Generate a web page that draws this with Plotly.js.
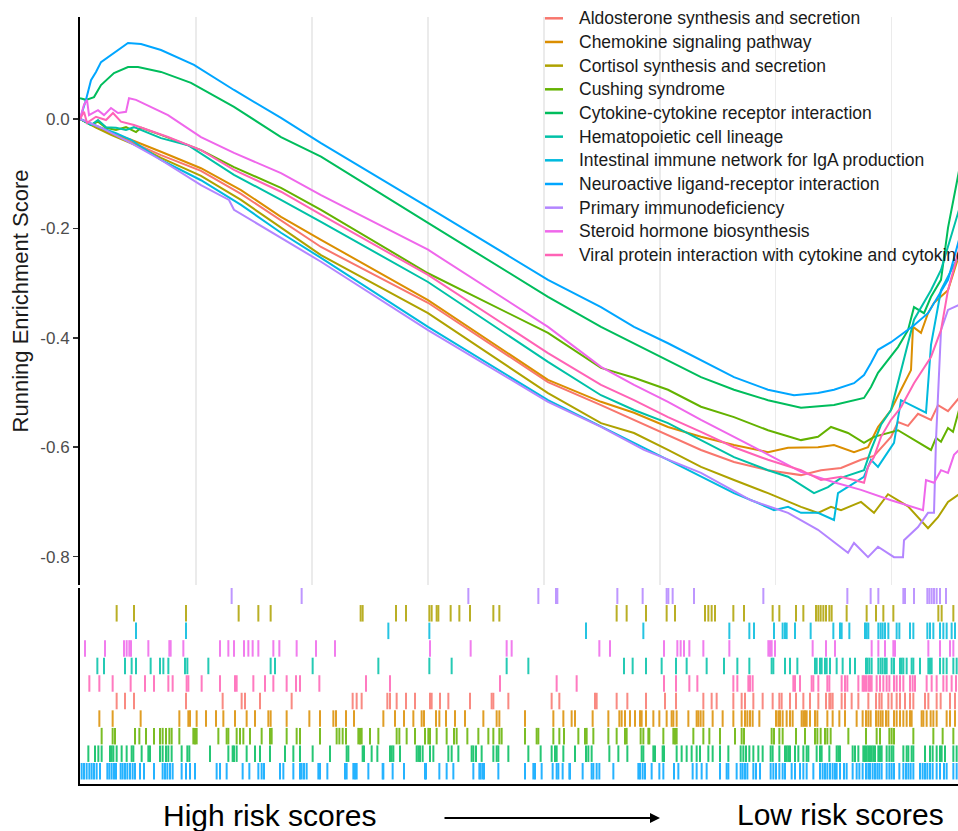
<!DOCTYPE html>
<html><head><meta charset="utf-8">
<script src="https://cdn.plot.ly/plotly-3.0.1.min.js"></script>
<style>html,body{margin:0;padding:0;background:#fff;}#chart{width:958px;height:831px;}</style>
</head><body><div id="chart"></div>
<script>
// ---- data (gene rank in ordered list, running enrichment score) ----
const setNames = [
  "Aldosterone synthesis and secretion",
  "Chemokine signaling pathway",
  "Cortisol synthesis and secretion",
  "Cushing syndrome",
  "Cytokine-cytokine receptor interaction",
  "Hematopoietic cell lineage",
  "Intestinal immune network for IgA production",
  "Neuroactive ligand-receptor interaction",
  "Primary immunodeficiency",
  "Steroid hormone biosynthesis",
  "Viral protein interaction with cytokine and cytokine-cytokine receptor interaction"
];

const aldoRank = [0,320,620,1020,1620,2420,3220,4020,4820,6960,9360,10420,11080,11760,12420,13080,13760,14420,14820,15220,15620,15880,16220,16360,16560,16760,17020,17160,17360,17580];
const aldoES = [0,-0.015,-0.027,-0.042,-0.066,-0.095,-0.137,-0.185,-0.234,-0.336,-0.481,-0.523,-0.550,-0.578,-0.605,-0.627,-0.642,-0.651,-0.642,-0.638,-0.623,-0.616,-0.581,-0.554,-0.561,-0.539,-0.550,-0.523,-0.534,-0.510];

const chemoRank = [0,320,620,1020,1620,2420,3220,4020,4820,6960,9360,10420,11080,11760,12420,13080,13760,14160,14760,15080,15480,15760,15960,16220,16420,16620,16660,16820,16960,17080,17360,17580];
const chemoES = [0,-0.015,-0.026,-0.038,-0.060,-0.090,-0.130,-0.179,-0.221,-0.331,-0.477,-0.517,-0.537,-0.563,-0.581,-0.596,-0.609,-0.601,-0.600,-0.596,-0.609,-0.600,-0.563,-0.532,-0.495,-0.459,-0.380,-0.391,-0.355,-0.336,-0.313,-0.249];

const cortisolRank = [0,320,620,1120,1620,2420,3220,4020,4820,6960,9360,10420,11080,11760,12420,13080,13760,14420,14760,15020,15220,15620,15880,16160,16560,16960,17160,17360,17580];
const cortisolES = [0,-0.016,-0.029,-0.048,-0.071,-0.104,-0.148,-0.199,-0.249,-0.355,-0.501,-0.556,-0.574,-0.605,-0.636,-0.660,-0.684,-0.709,-0.720,-0.709,-0.715,-0.700,-0.720,-0.686,-0.708,-0.748,-0.728,-0.700,-0.686];

const cushingRank = [0,220,360,520,720,920,1120,1220,1620,2420,3080,4020,4820,6960,9360,10420,11080,11760,12420,13080,13760,14420,14760,15020,15360,15680,15880,16360,17020,17120,17220,17360,17460,17580];
const cushingES = [0,-0.011,-0.005,-0.016,-0.020,-0.015,-0.024,-0.016,-0.029,-0.057,-0.088,-0.126,-0.166,-0.282,-0.391,-0.455,-0.473,-0.495,-0.526,-0.545,-0.569,-0.587,-0.581,-0.563,-0.574,-0.592,-0.581,-0.569,-0.605,-0.583,-0.590,-0.565,-0.572,-0.532];

const cytokineRank = [0,120,280,420,680,960,1160,1620,2220,3080,4020,4820,6960,9360,10420,11080,11760,12420,13080,13760,14420,15080,15680,15820,15960,16160,16360,16560,16680,16880,17020,17220,17360,17580];
const cytokineES = [0.038,0.035,0.040,0.062,0.084,0.095,0.095,0.086,0.066,0.022,-0.033,-0.069,-0.190,-0.325,-0.380,-0.410,-0.441,-0.472,-0.495,-0.514,-0.528,-0.523,-0.510,-0.490,-0.464,-0.441,-0.417,-0.386,-0.344,-0.355,-0.325,-0.294,-0.199,-0.095];

const hematoRank = [0,220,360,520,720,920,1080,1620,2160,3080,4020,4820,6960,9360,10420,11080,11760,12420,13080,13760,14160,14680,14960,15220,15680,15820,16020,16220,16420,16680,17020,17220,17580];
const hematoES = [0,-0.011,-0.002,-0.015,-0.016,-0.020,-0.015,-0.035,-0.048,-0.102,-0.148,-0.188,-0.298,-0.444,-0.505,-0.532,-0.556,-0.587,-0.618,-0.642,-0.654,-0.684,-0.673,-0.656,-0.642,-0.605,-0.559,-0.532,-0.459,-0.367,-0.313,-0.276,-0.166];

const intestRank = [0,220,420,720,1020,1620,2420,3220,4020,4820,6960,9360,10420,11080,11760,12420,13080,13560,13880,14160,14420,14760,15080,15160,15480,15680,15820,15960,16280,16420,16920,17020,17220,17580];
const intestES = [0,-0.009,-0.016,-0.026,-0.038,-0.075,-0.112,-0.157,-0.208,-0.254,-0.380,-0.514,-0.563,-0.592,-0.623,-0.654,-0.684,-0.702,-0.715,-0.709,-0.720,-0.720,-0.733,-0.684,-0.665,-0.654,-0.623,-0.636,-0.592,-0.514,-0.537,-0.413,-0.313,-0.249];

const neuroRank = [0,60,120,220,320,420,620,760,960,1220,1620,2280,3080,4020,4820,6960,9360,10420,11080,11760,12420,13080,13760,14280,14760,15080,15480,15680,15820,15960,16220,16420,16680,16960,17160,17360,17580];
const neuroES = [0,0.016,0.035,0.071,0.086,0.104,0.117,0.126,0.139,0.137,0.126,0.099,0.053,0.002,-0.044,-0.161,-0.294,-0.344,-0.380,-0.410,-0.441,-0.472,-0.495,-0.505,-0.501,-0.495,-0.483,-0.468,-0.446,-0.422,-0.408,-0.395,-0.377,-0.355,-0.325,-0.294,-0.221];

const primaryRank = [0,420,1020,1620,2420,2980,3080,4020,4820,6960,9360,10420,11280,12420,13420,14160,14760,15360,15480,15760,15960,16280,16460,16480,16760,16960,17080,17120,17220,17360,17580];
const primaryES = [0,-0.016,-0.044,-0.075,-0.121,-0.148,-0.166,-0.218,-0.261,-0.386,-0.517,-0.563,-0.605,-0.647,-0.697,-0.720,-0.751,-0.793,-0.775,-0.801,-0.782,-0.801,-0.801,-0.770,-0.746,-0.720,-0.720,-0.587,-0.386,-0.349,-0.340];

const steroidRank = [0,80,140,180,360,480,620,760,920,980,1120,1760,2420,3080,4020,4820,6960,9360,10420,11080,11760,12420,13080,13760,14420,15080,15620,16220,16860,16920,17080,17220,17360,17480,17580];
const steroidES = [0,0.026,0.035,0.007,0.016,0.007,0.020,0.011,0.013,0.038,0.035,0.007,-0.033,-0.062,-0.099,-0.139,-0.239,-0.380,-0.453,-0.486,-0.517,-0.550,-0.581,-0.614,-0.645,-0.664,-0.678,-0.697,-0.715,-0.660,-0.665,-0.642,-0.647,-0.614,-0.605];

const viralRank = [0,80,140,320,520,660,820,1080,1760,2420,3080,4020,4820,6960,9360,10420,11080,11760,12420,13080,13760,14420,14820,15220,15480,15680,15760,15880,16020,16220,16420,16680,17020,17220,17360,17580];
const viralES = [0,0.013,-0.007,0.004,-0.002,0.011,-0.005,-0.011,-0.033,-0.057,-0.093,-0.133,-0.175,-0.285,-0.428,-0.486,-0.514,-0.545,-0.572,-0.600,-0.623,-0.642,-0.660,-0.654,-0.660,-0.665,-0.636,-0.618,-0.581,-0.550,-0.527,-0.483,-0.435,-0.386,-0.313,-0.239];

// ---- gene-set member positions in the ranked list (rug) ----
const aldoHits = [733,900,1080,2120,2853,3233,3300,3600,4233,5453,5533,5633,6147,6200,6333,6520,6700,7000,7033,7200,7367,7800,8233,8267,8567,9433,9587,10300,10333,10733,10947,11320,11700,11920,12467,12633,12733,13067,13233,13300,13467,13653,13853,13987,14033,14200,14320,14467,14600,14767,14920,14987,15013,15053,15233,15300,15433,15567,15767,15920,15987,16033,16167,16233,16333,16400,16500,16600,16667,16900,16967,17133,17213,17400,17500];
const chemoHits = [387,653,1213,1987,2167,2200,2333,2520,2720,2867,3100,3333,3500,3767,3813,4133,4587,4800,5067,5120,5320,5480,6067,6300,6480,6667,6833,6880,7120,7187,7320,7500,7700,8067,8333,8387,8900,9467,9667,9833,9900,10253,10567,10787,10833,10900,11000,11100,11200,11233,11320,11467,11587,11733,11833,11867,11933,12167,12333,12367,12413,12467,12653,12853,13067,13233,13300,13347,13400,13453,13587,13920,13967,14000,14053,14133,14200,14253,14433,14467,14500,14533,14600,14700,14747,14947,15053,15187,15300,15533,15653,15720,15767,15813,15920,15967,16013,16053,16120,16167,16280,16333,16400,16467,16533,16600,16633,16833,16867,16933,17013,17067,17133,17333,17400,17500];
const cortisolHits = [733,1080,2120,3173,3567,3813,5613,5653,6320,6520,6987,7033,7133,7167,7413,7587,7800,8267,8387,10733,10933,11320,11733,11900,12500,12567,12633,12700,13067,13280,13853,13987,14320,14467,14720,14767,14813,14867,14920,14987,15033,15333,15733,15920,16067,16267,17167,17233,17467];
const cushingHits = [433,653,700,1100,1187,1320,1480,1600,1653,1720,1787,1833,1987,2267,2300,2333,2767,2933,2967,3133,3200,3267,3400,3633,3800,3833,4133,4333,4400,4800,5133,5187,5253,5320,5567,5600,5633,5800,5967,6333,6387,6533,6700,6900,6967,7000,7133,7333,7480,7533,7747,7967,8167,8267,8387,8433,8900,9133,9167,9467,9587,9680,9967,10100,10133,10267,10567,10733,10900,10933,11213,11267,11367,11387,11667,11867,11900,11933,12267,12467,12587,12800,13100,13233,13280,13833,13880,13987,14053,14320,14500,14700,14747,14813,14900,14947,15013,15367,15720,15933,16000,16187,16233,16280,16667,17067,17253,17467];
const cytokineHits = [167,300,367,433,600,633,667,733,833,933,1033,1067,1233,1367,1400,1600,1653,1720,1767,1833,2033,2147,2187,2600,2967,3053,3080,3133,3333,3500,3600,3800,4100,4267,4400,4653,5000,5333,5367,5653,5680,5833,5947,6200,6233,6267,6400,6733,6767,6800,6853,7000,7067,7367,7433,7567,7833,7867,7920,8033,8267,8333,8367,8567,8967,9213,9433,9500,9533,9667,9900,10120,10167,10233,10587,10767,10947,11233,11267,11467,11500,11653,11680,11933,12033,12133,12233,12333,12400,12567,12653,12800,12967,13213,13267,13320,13387,13467,13567,13653,13813,13853,13987,14100,14133,14167,14200,14300,14367,14467,14533,14567,14733,14800,14833,14987,15133,15167,15200,15453,15500,15567,15667,15700,15733,15767,15800,15833,15867,15900,15967,16000,16033,16133,16187,16233,16267,16467,16533,16567,16633,16667,16900,17000,17053,17133,17200,17233,17300,17467,17533];
const hematoHits = [347,480,900,1033,1120,1413,1600,1667,1767,2100,2147,2567,3813,3900,4653,5967,6987,7433,8533,8967,10880,11053,11320,11633,11920,12133,12533,12880,13147,13387,13833,13867,14100,14200,14347,14700,14733,14800,14833,14900,14933,15000,15133,15253,15400,15500,15720,15747,15787,15833,15967,16013,16053,16100,16133,16233,16280,16400,16433,16467,16533,16633,16667,16800,16967,17000,17033,17200,17267,17333,17467,17533];
const intestHits = [1120,2120,6167,6987,10120,11267,12987,13387,13480,13880,14053,14100,14133,14300,14613,15067,15200,15233,15387,15700,15733,15767,15967,16013,16053,16100,16167,16333,16387,16600,16667,16947,17000,17067,17200,17267,17333,17433,17500];
const neuroHits = [33,80,133,187,233,280,333,400,547,587,633,680,720,813,853,900,947,1000,1053,1100,1200,1280,1480,1653,1700,1747,1800,1853,2033,2120,2200,2300,2733,2800,2933,3253,3387,3567,3633,3680,4000,4067,4267,4400,4433,4480,4533,4767,4800,4947,5300,5333,5467,5500,5533,5767,6053,6067,6253,6480,6900,6920,7187,7333,7467,7867,7987,8013,8053,8080,8367,8900,9067,9100,9233,9453,9533,9567,9653,9787,9800,10053,10233,10267,10333,10387,10667,11167,11200,11253,11300,11433,11587,11667,11880,11967,12253,12333,12433,12533,12800,12933,12967,13133,13213,13253,13300,13347,13467,13520,13600,13813,13867,13920,13987,14053,14100,14233,14300,14400,14467,14533,14667,14800,14853,14900,14947,15000,15053,15100,15133,15200,15280,15333,15453,15533,15587,15653,15720,15767,15800,15853,15900,15947,15987,16033,16133,16187,16233,16280,16387,16467,16520,16567,16613,16667,16800,16853,16900,16947,17000,17053,17133,17200,17280,17333,17467,17533];
const primaryHits = [3033,4433,7767,9167,9520,9547,10747,11253,11733,11767,11853,12280,13667,15347,15813,15967,16467,16500,16680,16947,16987,17033,17080,17133,17200,17320];
const steroidHits = [100,500,880,933,987,1020,1367,1787,1813,2067,2800,2967,3080,3280,3367,3453,3567,3867,3987,4333,4720,5100,7000,7813,8533,8633,10387,10600,11680,11947,12013,12080,12187,12467,12987,13767,13800,13833,13900,14653,14920,15100,15833,15967,16100,16267,16300,16967,17200,17400,17467];
const viralHits = [187,387,653,1013,1300,1480,1767,1853,2133,2167,2433,2800,3100,3133,3467,3700,3867,4133,4320,4400,4787,5720,6200,8400,9533,9933,11680,11920,12187,12347,13067,13147,13367,13400,13453,14267,14300,14400,14633,14667,14767,14947,14987,15233,15300,15347,15567,15653,15680,15720,15767,15800,15833,15933,16000,16067,16133,16187,16280,16333,16400,16467,16600,16653,16700,16933,17033,17133,17267,17333,17433,17520];

// rug row of each set, counted from the bottom row
const rugRow = [4, 3, 9, 2, 1, 6, 8, 0, 10, 7, 5];
const yTickVals = [0, -0.2, -0.4, -0.6, -0.8];
const yTickText = ["0.0", "-0.2", "-0.4", "-0.6", "-0.8"];

// ---- styling ----
const colors = ["#F8766D","#DB8E00","#AEA200","#64B200","#00BD5C","#00C1A7","#00BADE","#00A6FF","#B385FF","#EF67EB","#FF63B6"];
const curves = [
  [aldoRank, aldoES], [chemoRank, chemoES], [cortisolRank, cortisolES], [cushingRank, cushingES],
  [cytokineRank, cytokineES], [hematoRank, hematoES], [intestRank, intestES], [neuroRank, neuroES],
  [primaryRank, primaryES], [steroidRank, steroidES], [viralRank, viralES]
];
const hits = [aldoHits, chemoHits, cortisolHits, cushingHits, cytokineHits, hematoHits, intestHits, neuroHits, primaryHits, steroidHits, viralHits];

const W = 958, H = 831, ML = 80, MT = 17, MB = 47;
const PW = W - ML, PH = H - MT - MB;
const px2x = p => (p - ML) / PW;          // page pixel -> paper x
const py2y = p => (H - MB - p) / PH;      // page pixel -> paper y

const traces = [];
curves.forEach((c, i) => {
  traces.push({
    type: 'scatter', mode: 'lines', x: c[0], y: c[1], name: setNames[i], showlegend: false,
    line: {color: colors[i], width: 2}, xaxis: 'x', yaxis: 'y', hoverinfo: 'skip'
  });
});
hits.forEach((h, i) => {
  const xs = [], ys = [];
  const r = rugRow[i];
  h.forEach(v => { xs.push(v, v, null); ys.push(r + 0.03, r + 0.97, null); });
  traces.push({
    type: 'scatter', mode: 'lines', x: xs, y: ys, showlegend: false,
    line: {color: colors[i], width: 2}, opacity: 0.85, xaxis: 'x2', yaxis: 'y2', hoverinfo: 'skip'
  });
});

const FONT = '"Liberation Sans", Arial, Helvetica, sans-serif';

// legend drawn as keys + labels
const shapes = [], annotations = [];
setNames.forEach((n, i) => {
  const yc = 18.3 + 23.67 * i;
  shapes.push({type: 'line', xref: 'paper', yref: 'paper', x0: px2x(545), x1: px2x(563), y0: py2y(yc), y1: py2y(yc),
               line: {color: colors[i], width: 2.5}});
  annotations.push({xref: 'paper', yref: 'paper', x: px2x(577), y: py2y(yc), xanchor: 'left', yanchor: 'middle',
                    text: n, showarrow: false, font: {size: 17.5, color: '#1A1A1A', family: FONT}});
});
annotations.push(
  {xref: 'paper', yref: 'paper', x: px2x(269), y: py2y(815), xanchor: 'center', yanchor: 'middle',
   text: 'High risk scores', showarrow: false, font: {size: 30, color: '#000000', family: FONT}},
  {xref: 'paper', yref: 'paper', x: px2x(840), y: py2y(814), xanchor: 'center', yanchor: 'middle',
   text: 'Low risk scores', showarrow: false, font: {size: 30, color: '#000000', family: FONT}},
  {xref: 'paper', yref: 'paper', x: px2x(660), y: py2y(818), ax: -217, ay: 0, text: '',
   showarrow: true, arrowhead: 2, arrowsize: 1, arrowwidth: 2, arrowcolor: '#000000'}
);

const layout = {
  width: W, height: H,
  margin: {l: ML, r: 0, t: MT, b: MB, autoexpand: false},
  paper_bgcolor: '#ffffff', plot_bgcolor: '#ffffff',
  font: {family: FONT, color: '#1A1A1A'},
  showlegend: false,
  xaxis: {domain: [0, 1], range: [0, 17560], anchor: 'y', showgrid: true, gridcolor: '#EBEBEB', gridwidth: 1.5,
          tick0: 0, dtick: 2319, showticklabels: false, ticks: '', zeroline: false, showline: false},
  yaxis: {domain: [0.2595, 1], range: [-0.8518, 0.1864], anchor: 'x', showgrid: false, zeroline: false,
          showline: true, linecolor: '#000000', linewidth: 2,
          tickmode: 'array', tickvals: yTickVals, ticktext: yTickText,
          ticks: 'outside', ticklen: 5, tickwidth: 1.5, tickcolor: '#333333',
          tickfont: {size: 17, color: '#4D4D4D', family: FONT},
          title: {text: 'Running Enrichment Score', font: {size: 22, color: '#1A1A1A', family: FONT}, standoff: 6}},
  xaxis2: {domain: [0, 1], range: [0, 17560], anchor: 'y2', showgrid: false, zeroline: false,
           showline: true, linecolor: '#000000', linewidth: 2, ticks: '', showticklabels: false},
  yaxis2: {domain: [0, 0.2555], range: [-0.228, 10.94], anchor: 'x2', showgrid: false, zeroline: false,
           showline: true, linecolor: '#000000', linewidth: 2, ticks: '', showticklabels: false},
  shapes: shapes,
  annotations: annotations
};

Plotly.newPlot('chart', traces, layout, {staticPlot: true, displayModeBar: false});
</script>
</body></html>
